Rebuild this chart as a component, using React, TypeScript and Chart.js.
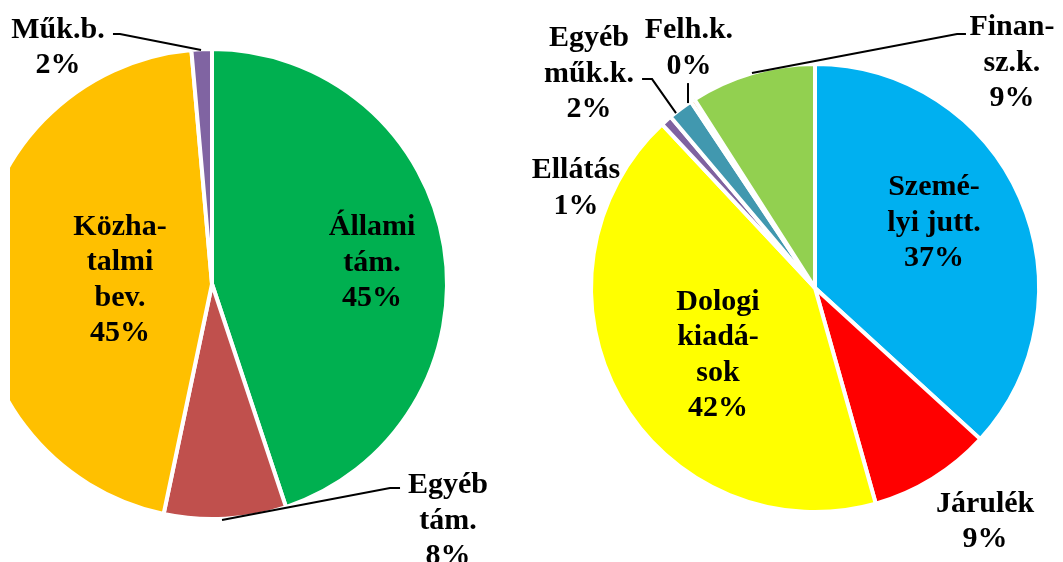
import React, { useEffect, useRef } from "react";
import { Chart, registerables } from "chart.js";

Chart.register(...registerables);

// ---------- data ----------
const leftCategories = ["Állami tám.", "Egyéb tám.", "Közhatalmi bev.", "Műk.b."];
const leftValues = [44.9, 8.4, 45.3, 1.4];
const leftPercents = ["45%", "8%", "45%", "2%"];
const leftLabelLines = [["Állami", "tám."], ["Egyéb", "tám."], ["Közha-", "talmi", "bev."], ["Műk.b."]];

const rightCategories = ["Személyi jutt.", "Járulék", "Dologi kiadások", "Ellátás", "Egyéb műk.k.", "Felh.k.", "Finansz.k."];
const rightValues = [36.6, 8.8, 42.2, 0.8, 1.8, 0.3, 9.0];
const rightPercents = ["37%", "9%", "42%", "1%", "2%", "0%", "9%"];
const rightLabelLines = [["Szemé-", "lyi jutt."], ["Járulék"], ["Dologi", "kiadá-", "sok"], ["Ellátás"], ["Egyéb", "műk.k."], ["Felh.k."], ["Finan-", "sz.k."]];

// ---------- styles ----------
const leftColors = ["#00B050", "#C0504D", "#FFC000", "#8064A2"];
const rightColors = ["#00B0F0", "#FF0000", "#FFFF00", "#7F62A0", "#4198AF", "#F79646", "#92D050"];

type Pt = [number, number];
type LabelPos = { dx: number; dy: number; leader?: Pt[] };

// label anchors relative to pie centre, in units of the pie radius
const leftLabelPos: LabelPos[] = [
  { dx: 0.687, dy: -0.09 },
  { dx: 1.013, dy: 1.017, leader: [[0.043, 1.013], [0.764, 0.876], [0.807, 0.876]] },
  { dx: -0.395, dy: -0.017 },
  { dx: -0.661, dy: -1.013, leader: [[-0.047, -1.004], [-0.395, -1.073], [-0.425, -1.073]] },
];
const rightLabelPos: LabelPos[] = [
  { dx: 0.536, dy: -0.293 },
  { dx: 0.766, dy: 1.054 },
  { dx: -0.437, dy: 0.302 },
  { dx: -1.077, dy: -0.45 },
  { dx: -1.018, dy: -0.964, leader: [[-0.626, -0.788], [-0.734, -0.941], [-0.779, -0.941]] },
  { dx: -0.568, dy: -1.081, leader: [[-0.572, -0.833], [-0.572, -0.923]] },
  { dx: 0.887, dy: -1.014, leader: [[-0.284, -0.968], [0.64, -1.144], [0.68, -1.144]] },
];

const FONT = 'bold 30px "Liberation Serif", "DejaVu Serif", serif';
const LINE_H = 35.5;
const BORDER = 4;

function makeLabelPlugin(lines: string[][], percents: string[], pos: LabelPos[]) {
  return {
    id: "pieLabels",
    afterDraw(chart: any) {
      const meta = chart.getDatasetMeta(0);
      const arc: any = meta.data[0];
      if (!arc) return;
      const cx = arc.x;
      const cy = arc.y;
      const R = arc.outerRadius - BORDER / 2;
      const ctx: CanvasRenderingContext2D = chart.ctx;
      ctx.save();
      ctx.strokeStyle = "#000";
      ctx.lineWidth = 2;
      pos.forEach((p) => {
        if (!p.leader) return;
        ctx.beginPath();
        p.leader.forEach(([lx, ly], i) => {
          const X = cx + lx * R;
          const Y = cy + ly * R;
          if (i === 0) ctx.moveTo(X, Y);
          else ctx.lineTo(X, Y);
        });
        ctx.stroke();
      });
      ctx.font = FONT;
      ctx.fillStyle = "#000";
      ctx.textAlign = "center";
      ctx.textBaseline = "middle";
      pos.forEach((p, i) => {
        const all = [...lines[i], percents[i]];
        const x = cx + p.dx * R;
        const yMid = cy + p.dy * R;
        const y0 = yMid - ((all.length - 1) * LINE_H) / 2;
        all.forEach((t, k) => ctx.fillText(t, x, y0 + k * LINE_H));
      });
      ctx.restore();
    },
  };
}

function PieCanvas(props: {
  labels: string[];
  values: number[];
  colors: string[];
  lines: string[][];
  percents: string[];
  pos: LabelPos[];
  padding: { left: number; right: number; top: number; bottom: number };
  left: number;
  width: number;
}) {
  const ref = useRef<HTMLCanvasElement>(null);
  useEffect(() => {
    const chart = new Chart(ref.current as HTMLCanvasElement, {
      type: "pie",
      data: {
        labels: props.labels,
        datasets: [
          {
            data: props.values,
            backgroundColor: props.colors,
            borderColor: "#FFFFFF",
            borderWidth: BORDER,
          },
        ],
      },
      options: {
        responsive: false,
        animation: false,
        devicePixelRatio: 1,
        layout: { padding: props.padding },
        plugins: { legend: { display: false }, tooltip: { enabled: false } },
      },
      plugins: [makeLabelPlugin(props.lines, props.percents, props.pos)],
    } as any);
    return () => chart.destroy();
  }, []);
  return (
    <canvas
      ref={ref}
      width={props.width}
      height={562}
      style={{ position: "absolute", left: props.left, top: 0, width: props.width, height: 562 }}
    />
  );
}

export default function App() {
  return (
    <div style={{ position: "fixed", left: 0, top: 0, width: 1063, height: 562, background: "#fff", overflow: "hidden" }}>
      <div style={{ position: "absolute", left: 10, top: 0, width: 509, height: 562, overflow: "hidden" }}>
        <PieCanvas
          labels={leftCategories}
          values={leftValues}
          colors={leftColors}
          lines={leftLabelLines}
          percents={leftPercents}
          pos={leftLabelPos}
          padding={{ left: 0, right: 70, top: 47, bottom: 41 }}
          left={-35}
          width={544}
        />
      </div>
      <PieCanvas
        labels={rightCategories}
        values={rightValues}
        colors={rightColors}
        lines={rightLabelLines}
        percents={rightPercents}
        pos={rightLabelPos}
        padding={{ left: 70, right: 22, top: 62, bottom: 48 }}
        left={519}
        width={544}
      />
    </div>
  );
}
